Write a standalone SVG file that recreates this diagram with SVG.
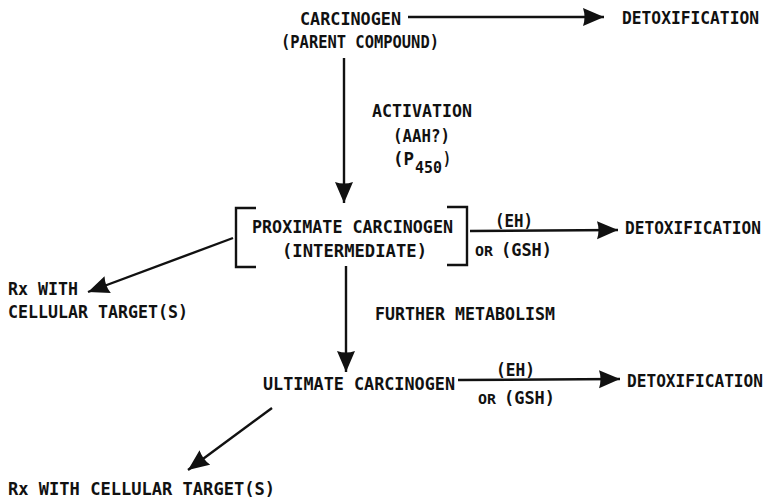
<svg xmlns="http://www.w3.org/2000/svg" width="769" height="500" viewBox="0 0 769 500">
<defs>
<style>
text{font-family:"DejaVu Sans Mono","Liberation Mono",monospace;font-weight:bold;font-size:17px;fill:#111;}
.sm{font-size:14px;}
.sub{font-size:15px;}
.ln{stroke:#111;stroke-width:2.4;fill:none;}
.br{stroke:#111;stroke-width:2.4;fill:none;}
</style>
<marker id="ah" markerUnits="userSpaceOnUse" markerWidth="24" markerHeight="20" refX="21" refY="9" orient="auto">
<path d="M0,0 L21,9 L0,18 Q3,9 0,0 Z" fill="#111"/>
</marker>
</defs>
<rect width="769" height="500" fill="#fff"/>
<g id="connectors">
<line class="ln" x1="408" y1="17" x2="604" y2="17" marker-end="url(#ah)"/>
<line class="ln" x1="344" y1="58" x2="344" y2="203" marker-end="url(#ah)"/>
<line class="ln" x1="233" y1="238" x2="88" y2="292" marker-end="url(#ah)"/>
<line class="ln" x1="470" y1="231" x2="618" y2="230" marker-end="url(#ah)"/>
<line class="ln" x1="346" y1="266" x2="346" y2="372" marker-end="url(#ah)"/>
<line class="ln" x1="458" y1="380" x2="620" y2="379" marker-end="url(#ah)"/>
<line class="ln" x1="272" y1="408" x2="188" y2="470" marker-end="url(#ah)"/>
</g>
<g id="carcinogen">
<text x="300" y="25" textLength="101" lengthAdjust="spacingAndGlyphs">CARCINOGEN</text>
<text x="281" y="48" textLength="158" lengthAdjust="spacingAndGlyphs">(PARENT COMPOUND)</text>
</g>
<g id="detox1"><text x="622" y="24" textLength="137" lengthAdjust="spacingAndGlyphs">DETOXIFICATION</text></g>
<g id="activation">
<text x="372" y="117" textLength="100" lengthAdjust="spacingAndGlyphs">ACTIVATION</text>
<text x="393" y="142" textLength="57" lengthAdjust="spacingAndGlyphs">(AAH?)</text>
<text x="393" y="165" textLength="21" lengthAdjust="spacingAndGlyphs">(P</text>
<text x="415" y="173" class="sub" textLength="27" lengthAdjust="spacingAndGlyphs">450</text>
<text x="443" y="165" textLength="8" lengthAdjust="spacingAndGlyphs">)</text>
</g>
<g id="proximate">
<path class="br" d="M256,208 L236,208 L236,267 L256,267"/>
<path class="br" d="M447,207 L467,207 L467,265 L447,265"/>
<text x="252" y="233" textLength="201" lengthAdjust="spacingAndGlyphs">PROXIMATE CARCINOGEN</text>
<text x="282" y="257" textLength="145" lengthAdjust="spacingAndGlyphs">(INTERMEDIATE)</text>
</g>
<g id="enzymes1">
<text x="495" y="227" textLength="38" lengthAdjust="spacingAndGlyphs">(EH)</text>
<text x="475" y="256" class="sm" textLength="18" lengthAdjust="spacingAndGlyphs">OR</text>
<text x="501" y="256" textLength="51" lengthAdjust="spacingAndGlyphs">(GSH)</text>
</g>
<g id="detox2"><text x="625" y="234" textLength="136" lengthAdjust="spacingAndGlyphs">DETOXIFICATION</text></g>
<g id="rx1">
<text x="8" y="295" textLength="70" lengthAdjust="spacingAndGlyphs">Rx WITH</text>
<text x="8" y="318" textLength="180" lengthAdjust="spacingAndGlyphs">CELLULAR TARGET(S)</text>
</g>
<g id="further"><text x="375" y="320" textLength="180" lengthAdjust="spacingAndGlyphs">FURTHER METABOLISM</text></g>
<g id="ultimate"><text x="263" y="390" textLength="192" lengthAdjust="spacingAndGlyphs">ULTIMATE CARCINOGEN</text></g>
<g id="enzymes2">
<text x="496" y="376" textLength="39" lengthAdjust="spacingAndGlyphs">(EH)</text>
<text x="478" y="404" class="sm" textLength="18" lengthAdjust="spacingAndGlyphs">OR</text>
<text x="504" y="404" textLength="51" lengthAdjust="spacingAndGlyphs">(GSH)</text>
</g>
<g id="detox3"><text x="627" y="387" textLength="136" lengthAdjust="spacingAndGlyphs">DETOXIFICATION</text></g>
<g id="rx2"><text x="8" y="495" textLength="267" lengthAdjust="spacingAndGlyphs">Rx WITH CELLULAR TARGET(S)</text></g>
</svg>
